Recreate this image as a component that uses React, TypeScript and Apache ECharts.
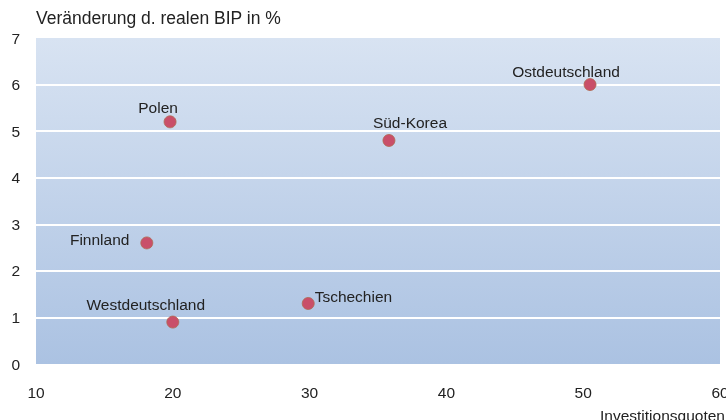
import React, { useEffect, useRef } from "react";
import * as echarts from "echarts";

const countries = ["Ostdeutschland", "Polen", "Süd-Korea", "Finnland", "Tschechien", "Westdeutschland"];
const investment = [50.5, 19.8, 35.8, 18.1, 29.9, 20.0];
const growth = [6.0, 5.2, 4.8, 2.6, 1.3, 0.9];
const labelPositions = ["top", "top", "top", "left", "right", "top"];
const labelShifts = [[-24, 1], [-12, 0], [21, -4], [0, -3], [0, -7], [-27, -3]];
const xTicks = [10, 20, 30, 40, 50, 60];
const yTicks = [0, 1, 2, 3, 4, 5, 6, 7];

export default function App() {
  const ref = useRef<HTMLDivElement>(null);
  useEffect(() => {
    if (!ref.current) return;
    const chart = echarts.init(ref.current, null, { renderer: "svg" });
    const font = "Liberation Sans, Arial, sans-serif";
    const data = countries.map((c, i) => {
      const pos = labelPositions[i];
      const label: any = { position: pos, offset: labelShifts[i], distance: 0 };
      if (pos === "right") label.distance = 0;
      if (pos === "left") label.distance = 11;
      return { name: c, value: [investment[i], growth[i]], label };
    });
    chart.setOption({
      animation: false,
      textStyle: { fontFamily: font },
      title: {
        text: "Veränderung d. realen BIP in %",
        left: 31,
        top: 4,
        textStyle: { fontSize: 17.5, fontWeight: "normal", color: "#222", fontFamily: font },
      },
      grid: {
        left: 36,
        right: 6,
        top: 38,
        bottom: 56,
        outerBoundsMode: "none",
        containLabel: false,
        show: true,
        borderWidth: 0,
        backgroundColor: new echarts.graphic.LinearGradient(0, 0, 0, 1, [
          { offset: 0, color: "#d8e3f2" },
          { offset: 1, color: "#abc2e2" },
        ]),
      },
      xAxis: {
        type: "value",
        min: xTicks[0],
        max: xTicks[xTicks.length - 1],
        interval: 10,
        axisLine: { show: false },
        axisTick: { show: false },
        splitLine: { show: false },
        axisLabel: { fontSize: 15.5, color: "#222", margin: 20, fontFamily: font },
      },
      yAxis: {
        type: "value",
        min: yTicks[0],
        max: yTicks[yTicks.length - 1],
        interval: 1,
        axisLine: { show: false },
        axisTick: { show: false },
        splitLine: {
          show: true,
          lineStyle: { color: "#ffffff", width: 2 },
          showMinLine: false,
          showMaxLine: false,
        },
        axisLabel: { fontSize: 15.5, color: "#222", margin: 16, fontFamily: font },
      },
      graphic: [
        {
          type: "text",
          left: 600,
          top: 407,
          style: { text: "Investitionsquoten", fontSize: 15.5, fill: "#222", fontFamily: font },
        },
      ],
      series: [
        {
          type: "scatter",
          symbolSize: 12,
          itemStyle: { color: "#c94f69", borderColor: "#b0684f", borderWidth: 0.8, opacity: 1 },
          label: {
            show: true,
            formatter: "{b}",
            fontSize: 15.5,
            color: "#222",
            fontFamily: font,
          },
          data,
        },
      ],
    });
    return () => chart.dispose();
  }, []);
  return <div ref={ref} style={{ position: "fixed", left: 0, top: 0, width: 726, height: 420 }} />;
}
